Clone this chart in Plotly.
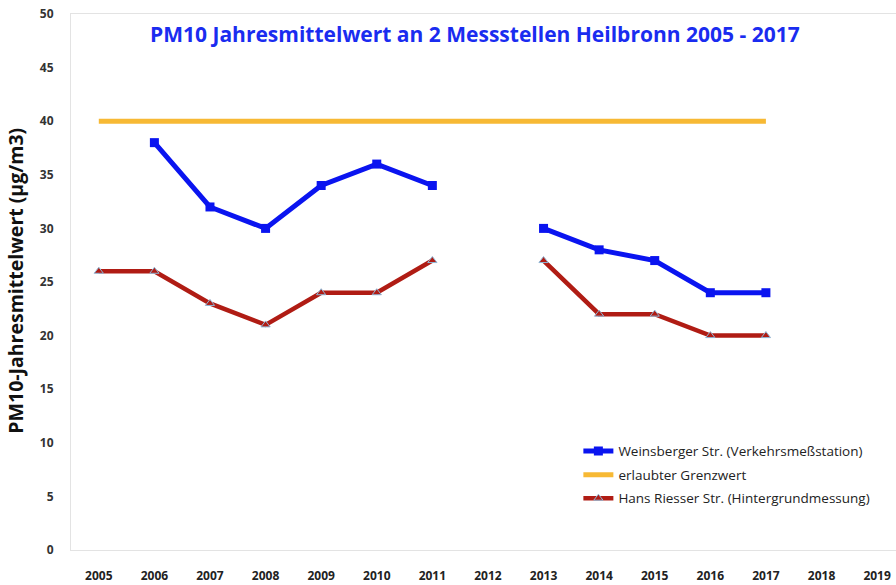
import plotly.graph_objects as go

years = list(range(2005, 2020))
weinsberger = [None, 38, 32, 30, 34, 36, 34, None, 30, 28, 27, 24, 24, None, None]
grenzwert = [40, 40, 40, 40, 40, 40, 40, 40, 40, 40, 40, 40, 40, None, None]
hans_riesser = [26, 26, 23, 21, 24, 24, 27, None, 27, 22, 22, 20, 20, None, None]
y_ticks = [0, 5, 10, 15, 20, 25, 30, 35, 40, 45, 50]

FONT = "Open Sans"

fig = go.Figure()
fig.add_trace(go.Scatter(
    x=years, y=weinsberger, mode="lines+markers",
    name="Weinsberger Str. (Verkehrsmeßstation)", legendgroup="a",
    line=dict(color="#0a14f0", width=5),
    marker=dict(symbol="square", size=9, color="#0a14f0"),
    connectgaps=False,
))
fig.add_trace(go.Scatter(
    x=years, y=grenzwert, mode="lines",
    name="erlaubter Grenzwert", legendgroup="b",
    line=dict(color="#f7b934", width=5),
))
fig.add_trace(go.Scatter(
    x=years, y=hans_riesser, mode="lines+markers",
    name="Hans Riesser Str. (Hintergrundmessung)", legendgroup="c",
    line=dict(color="#b01c14", width=4.5),
    marker=dict(symbol="triangle-up", size=8, color="#b01c14",
                line=dict(color="#8fb8d8", width=1)),
    connectgaps=False,
))

fig.update_layout(
    width=896, height=585,
    margin=dict(l=71, r=0, t=14, b=35),
    paper_bgcolor="white", plot_bgcolor="white",
    font=dict(family=FONT, color="#333333"),
    showlegend=True,
    title=dict(
        text="<b>PM10 Jahresmittelwert an 2 Messstellen Heilbronn 2005 - 2017</b>",
        font=dict(family=FONT, size=21, color="#1a2cf0"),
        x=0.53, xanchor="center", y=0.94, yanchor="middle",
    ),
    legend=dict(
        x=0.615, y=0.213, xanchor="left", yanchor="top",
        bgcolor="rgba(0,0,0,0)",
        font=dict(family=FONT, size=13.5, color="#222222"),
        tracegroupgap=3, itemwidth=30,
    ),
    xaxis=dict(
        range=[2004.5, 2019.34], automargin=False,
        tickmode="array", tickvals=years, ticktext=[str(y) for y in years],
        showgrid=False, zeroline=False,
        showline=True, linecolor="#e3e3e3", linewidth=1, mirror=True,
        ticks="", tickfont=dict(family=FONT, size=12, color="#222222", weight="bold"),
        ticklabelstandoff=15,
    ),
    yaxis=dict(
        range=[0, 50], automargin=False,
        tickmode="array", tickvals=y_ticks,
        showgrid=False, zeroline=False,
        showline=True, linecolor="#e3e3e3", linewidth=1, mirror=True,
        ticks="", tickfont=dict(family=FONT, size=12, color="#333333", weight="bold"),
        ticklabelstandoff=14,
    ),
    annotations=[dict(
        text="<b>PM10-Jahresmittelwert (µg/m3)</b>",
        textangle=-90, showarrow=False,
        xref="paper", yref="paper", x=-0.067, y=0.502,
        xanchor="center", yanchor="middle",
        font=dict(family=FONT, size=19.5, color="#111111"),
    )],
)

fig.write_html("out.html", post_script="document.body.style.margin='0px';",
               config={"displayModeBar": False})
